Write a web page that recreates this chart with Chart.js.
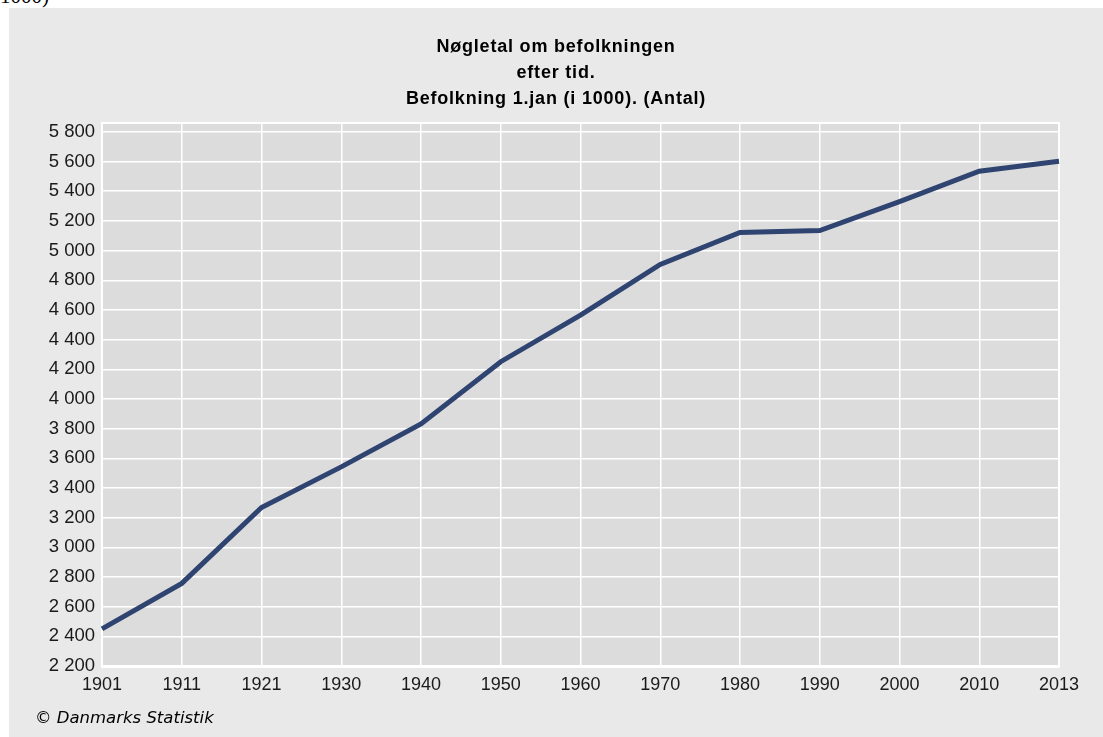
<!DOCTYPE html>
<html>
<head>
<meta charset="utf-8">
<title>Nøgletal om befolkningen</title>
<script src="https://cdn.jsdelivr.net/npm/chart.js@4/dist/chart.umd.min.js"></script>
<style>
	html, body { margin: 0; padding: 0; background: #fff; overflow: hidden; }
	body { width: 1103px; height: 737px; position: relative; }
	#cut-text { position: absolute; left: 0; top: -16px; font: 21px 'Liberation Serif', serif; color: #000; }
	#panel { position: absolute; left: 9px; top: 8px; width: 1094px; height: 729px; background: #e9e9e9; }
	#title { position: absolute; left: 0; width: 1094px; top: 25px; text-align: center; font: bold 18px 'Liberation Sans', Arial, sans-serif; letter-spacing: 0.8px; line-height: 26px; color: #000; }
	#copyright { position: absolute; left: 26px; top: 700px; font: oblique 16.5px 'DejaVu Sans', Verdana, sans-serif; color: #000; }
	#chart-wrap { position: absolute; left: 0; top: 0; width: 1094px; height: 729px; }
</style>
</head>
<body>
<div id="cut-text">1000)</div>
<div id="panel">
	<div id="chart-wrap"><canvas id="population-chart"></canvas></div>
	<div id="title">Nøgletal om befolkningen<br>efter tid.<br>Befolkning 1.jan (i 1000). (Antal)</div>
	<div id="copyright">© Danmarks Statistik</div>
</div>
<script>
const years = ['1901', '1911', '1921', '1930', '1940', '1950', '1960', '1970', '1980', '1990', '2000', '2010', '2013'];
const population = [2450, 2757, 3268, 3542, 3832, 4251, 4565, 4907, 5122, 5135, 5330, 5535, 5602];
const yTicks = [2200, 2400, 2600, 2800, 3000, 3200, 3400, 3600, 3800, 4000, 4200, 4400, 4600, 4800, 5000, 5200, 5400, 5600, 5800];

const yMin = 2200;
const yMax = 5860;

const populationChartElem = document.querySelector('#population-chart');

function formatThousands(value) {
	return String(value).replace(/\B(?=(\d{3})+(?!\d))/g, ' ');
}

Chart.defaults.font.family = "'Liberation Sans', Arial, sans-serif";
Chart.defaults.color = '#1a1a1a';

const chartConfig = {
	type: 'line',
	data: {
		labels: years,
		datasets: [{
			label: 'Befolkning 1.jan (i 1000)',
			data: population,
			borderColor: '#2f4470',
			borderWidth: 5,
			pointRadius: 0,
			tension: 0,
			fill: false
		}]
	},
	options: {
		responsive: true,
		maintainAspectRatio: false,
		animation: false,
		layout: {
			padding: { left: 0, right: 44, top: 115, bottom: 41 }
		},
		scales: {
			x: {
				offset: false,
				grid: {
					color: '#ffffff',
					lineWidth: 1.5,
					drawTicks: false
				},
				border: { color: '#ffffff', width: 3 },
				ticks: {
					font: { size: 18 },
					padding: 8,
					autoSkip: false,
					maxRotation: 0
				},
				afterFit: scale => { scale.height = 30; }
			},
			y: {
				min: yMin,
				max: yMax,
				grid: {
					color: '#ffffff',
					lineWidth: 1.5,
					drawTicks: false
				},
				border: { color: '#ffffff', width: 2 },
				ticks: {
					font: { size: 18.5 },
					padding: 7,
					callback: value => yTicks.includes(value) ? formatThousands(value) : null
				},
				// fixed tick list, the top edge (yMax) keeps a grid line but no label
				afterBuildTicks: scale => {
					scale.ticks = yTicks.map(value => ({ value })).concat([{ value: yMax }]);
				},
				afterFit: scale => { scale.width = 93; }
			}
		},
		plugins: {
			legend: { display: false },
			tooltip: { enabled: false },
			title: { display: false }
		}
	},
	plugins: [{
		id: 'plotBackground',
		beforeDraw(chart) {
			const { ctx, chartArea } = chart;
			ctx.save();
			ctx.fillStyle = '#dcdcdc';
			ctx.fillRect(chartArea.left, chartArea.top, chartArea.right - chartArea.left, chartArea.bottom - chartArea.top);
			ctx.strokeStyle = '#ffffff';
			ctx.lineWidth = 2;
			ctx.strokeRect(chartArea.left, chartArea.top, chartArea.right - chartArea.left, chartArea.bottom - chartArea.top);
			ctx.restore();
		}
	}]
};

new Chart(populationChartElem, chartConfig);
</script>
</body>
</html>
